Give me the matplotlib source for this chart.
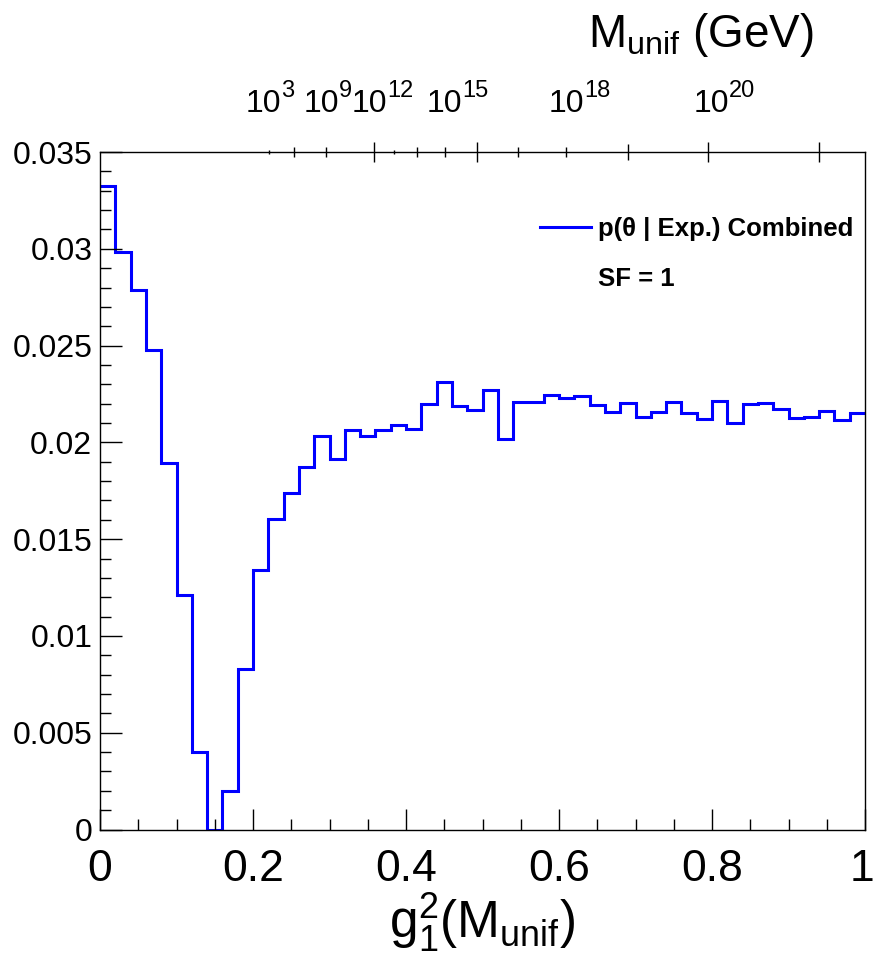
"""Posterior of g1^2 at the unification scale, ROOT-style step histogram."""

import numpy as np
import matplotlib
matplotlib.use("Agg")
import matplotlib.pyplot as plt
from matplotlib.lines import Line2D
from matplotlib.transforms import blended_transform_factory, ScaledTranslation

plt.rcParams["font.family"] = ["Liberation Sans", "DejaVu Sans"]
plt.rcParams["mathtext.fontset"] = "custom"
plt.rcParams["mathtext.rm"] = "Liberation Sans"
plt.rcParams["mathtext.it"] = "Liberation Sans:italic"
plt.rcParams["mathtext.bf"] = "Liberation Sans:bold"

# ---------------------------------------------------------------------------
# Data (50 bins on [0, 1])
# ---------------------------------------------------------------------------
x_lo, x_hi, n_bins = 0.0, 1.0, 50
bin_values = [
    0.03325, 0.02981, 0.02787, 0.02475, 0.01891,
    0.01210, 0.00399, 0.00000, 0.00199, 0.00829,
    0.01340, 0.01604, 0.01740, 0.01871, 0.02034,
    0.01912, 0.02062, 0.02031, 0.02062, 0.02091,
    0.02067, 0.02199, 0.02313, 0.02188, 0.02165,
    0.02272, 0.02016, 0.02207, 0.02208, 0.02243,
    0.02229, 0.02239, 0.02194, 0.02157, 0.02205,
    0.02132, 0.02155, 0.02207, 0.02151, 0.02119,
    0.02212, 0.02100, 0.02198, 0.02203, 0.02170,
    0.02124, 0.02129, 0.02162, 0.02114, 0.02151,
]

# upper M_unif axis: exponents of the labels (left edge in g1^2 units)
# and the tick groups
top_exponents = ["3", "9", "12", "15", "18", "20"]
top_label_pos = [0.190, 0.266, 0.3295, 0.427, 0.586, 0.776]
top_ticks_big = [0.358, 0.493, 0.795, 0.940]
top_ticks_mid = [0.690]
top_ticks_small = [0.253, 0.296, 0.415, 0.451, 0.546, 0.609]
top_ticks_tiny = [0.221, 0.384]

legend_label = "p(θ | Exp.) Combined"
sf_label = "SF = 1"

# ---------------------------------------------------------------------------
fig = plt.figure(figsize=(8.75, 9.8), dpi=100)
ax = fig.add_axes([100 / 875, 1 - 829.5 / 980, 765 / 875, 677.5 / 980])

edges = np.linspace(x_lo, x_hi, n_bins + 1)
ax.stairs(bin_values, edges, baseline=None, color=(0, 0, 1), linewidth=2.2)

ax.set_xlim(0, 1)
ax.set_ylim(0, 0.035)

ax.set_xticks(np.arange(0, 1.01, 0.2))
ax.set_xticks(np.arange(0, 1.001, 0.05), minor=True)
ax.set_xticklabels(["0", "0.2", "0.4", "0.6", "0.8", "1"])
ax.set_yticks(np.arange(0, 0.0351, 0.005))
ax.set_yticks(np.arange(0, 0.0351, 0.001), minor=True)
ax.set_yticklabels(["0", "0.005", "0.01", "0.015", "0.02", "0.025",
                    "0.03", "0.035"])

ax.tick_params(axis="both", which="both", direction="in",
               top=False, right=False, width=1.0)
ax.tick_params(axis="x", which="major", length=15, pad=14, labelsize=32)
ax.tick_params(axis="x", which="minor", length=8)
ax.tick_params(axis="y", which="major", length=16, pad=5.5, labelsize=23)
ax.tick_params(axis="y", which="minor", length=8)
for s in ax.spines.values():
    s.set_linewidth(1.0)

# the last label "1" sits right on the figure edge; nudge it inwards a bit
last = ax.get_xticklabels()[-1]
last.set_transform(last.get_transform()
                   + ScaledTranslation(-3 / 100, 0, fig.dpi_scale_trans))

ax.set_xlabel(r"$\mathrm{g}_{1}^{2}(\mathrm{M}_{\mathrm{unif}})$",
              fontsize=37, labelpad=0)

# upper axis ticks, straddling the frame
trans = blended_transform_factory(ax.transData, ax.transAxes)
for group, size in ((top_ticks_big, 14.5), (top_ticks_mid, 11.5),
                    (top_ticks_small, 7.5), (top_ticks_tiny, 3.5)):
    ax.plot(group, [1.0] * len(group), ls="none", marker="|",
            markersize=size, markeredgewidth=1.0, color="black",
            transform=trans, clip_on=False)

for expo, xpos in zip(top_exponents, top_label_pos):
    ax.text(xpos, 1.0595, "10", transform=trans, fontsize=23,
            ha="left", va="baseline")
    ax.annotate(expo, xy=(xpos, 1.0595), xycoords=trans,
                xytext=(25.6, 10.6), textcoords="offset points",
                fontsize=17, ha="left", va="baseline")

fig.text(588 / 875, 1 - 47 / 980, r"$\mathrm{M}_{\mathrm{unif}}$ (GeV)",
         fontsize=33, ha="left", va="baseline")

handles = [Line2D([], [], color=(0, 0, 1), linewidth=2.2),
           Line2D([], [], linestyle="none")]
ax.legend(handles, [legend_label, sf_label], loc="upper left",
          bbox_to_anchor=(540 / 875, 1 - 217 / 980),
          bbox_transform=fig.transFigure, frameon=False,
          prop={"weight": "bold", "size": 18.5}, handlelength=2.0,
          handletextpad=0.25, labelspacing=1.0, borderaxespad=0,
          borderpad=0)

fig.savefig("out.png", dpi=100)
